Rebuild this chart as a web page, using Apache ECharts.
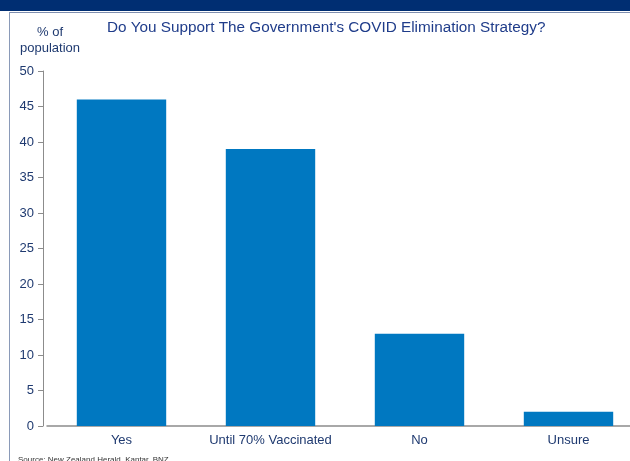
<!DOCTYPE html>
<html><head><meta charset="utf-8">
<script src="https://cdn.jsdelivr.net/npm/echarts@6/dist/echarts.min.js"></script>
<style>html,body{margin:0;padding:0;background:#fff;overflow:hidden}#c{width:643px;height:461px}</style>
</head><body><div id="c"></div>
<script>
var categories = ['Yes', 'Until 70% Vaccinated', 'No', 'Unsure'];
var support = [46, 39, 13, 2];
var yTicks = [0, 5, 10, 15, 20, 25, 30, 35, 40, 45, 50];

var navy = '#1f3a70';
var ff = 'Liberation Sans, Arial, sans-serif';
var chart = echarts.init(document.getElementById('c'));
chart.setOption({
  animation: false,
  textStyle: {fontFamily: ff},
  graphic: [
    {type: 'rect', shape: {x: 0, y: 0, width: 643, height: 11}, style: {fill: '#002e72'}, silent: true},
    {type: 'line', shape: {x1: 9, y1: 12.5, x2: 643, y2: 12.5}, style: {stroke: '#7f8fb0', lineWidth: 1}},
    {type: 'line', shape: {x1: 9.5, y1: 12, x2: 9.5, y2: 461}, style: {stroke: '#8a9ab8', lineWidth: 1}},
    {type: 'text', x: 50, y: 32, style: {text: '% of', fill: navy, font: '13px ' + ff, align: 'center', verticalAlign: 'middle'}},
    {type: 'text', x: 50, y: 48, style: {text: 'population', fill: navy, font: '13px ' + ff, align: 'center', verticalAlign: 'middle'}},
    {type: 'text', x: 107, y: 28, style: {text: "Do You Support The Government's COVID Elimination Strategy?", fill: '#1f3c8a', font: '15.3px ' + ff, verticalAlign: 'middle'}},
    {type: 'text', x: 18, y: 456, style: {text: 'Source: New Zealand Herald, Kantar, BNZ', fill: '#333', font: '8px ' + ff}}
  ],
  grid: {left: 47, top: 71, width: 596, bottom: 35, containLabel: false},
  xAxis: {
    type: 'category', data: categories,
    axisLine: {lineStyle: {color: '#8c8c8c', width: 1.5}},
    axisTick: {show: false},
    axisLabel: {color: navy, fontSize: 13, margin: 8, interval: 0}
  },
  yAxis: {
    type: 'value', min: yTicks[0], max: yTicks[yTicks.length - 1], interval: 5,
    offset: 4,
    splitLine: {show: false},
    axisLine: {show: true, lineStyle: {color: '#8c8c8c'}},
    axisTick: {show: true, length: 5, lineStyle: {color: '#8c8c8c'}},
    axisLabel: {color: navy, fontSize: 13, margin: 9}
  },
  series: [{
    type: 'bar', data: support, barWidth: '60%',
    itemStyle: {color: '#0078c1'}
  }]
});
</script></body></html>
